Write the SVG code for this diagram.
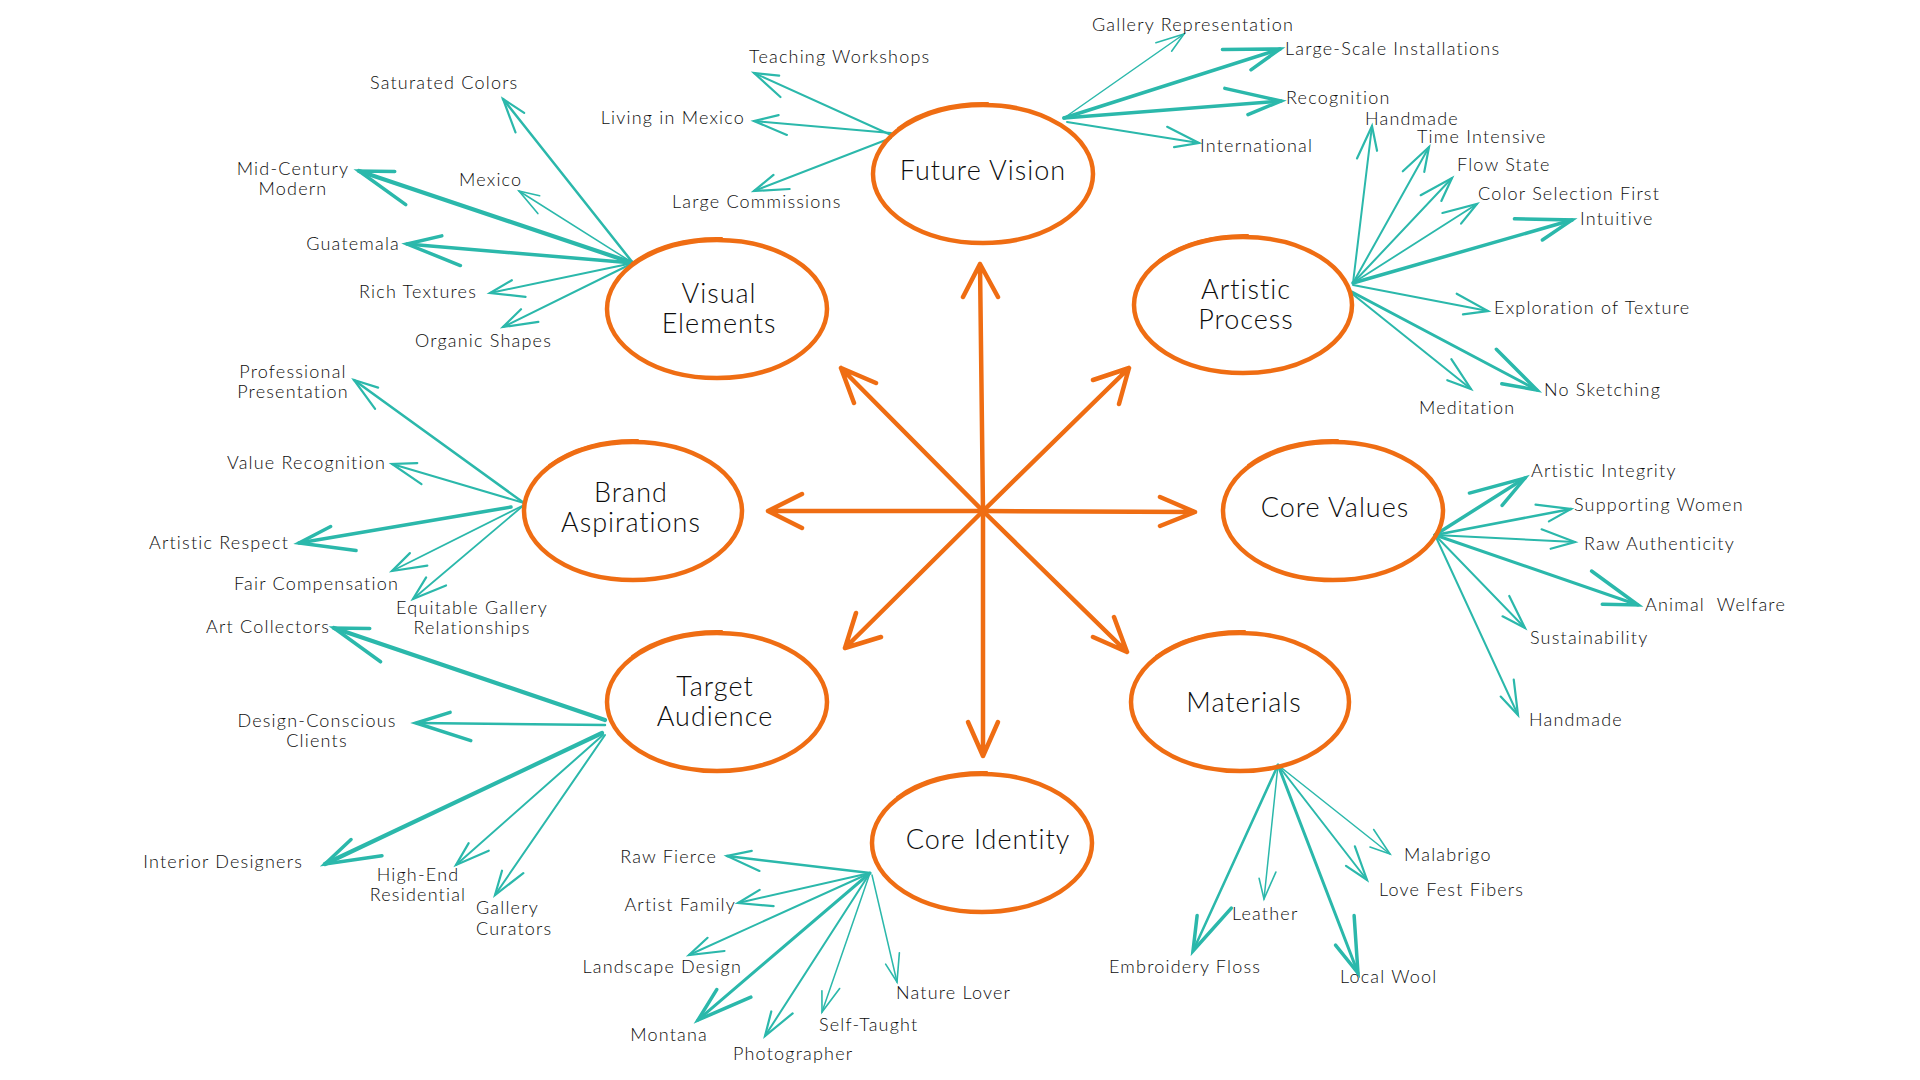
<svg xmlns="http://www.w3.org/2000/svg" width="1920" height="1080" viewBox="0 0 1920 1080">
<style>
.hub{stroke:#EF6D13;stroke-width:4.5;fill:none;stroke-linecap:round;stroke-linejoin:round}
.ring{stroke:#EF6D13;stroke-width:4.5;fill:none}
.ring2{stroke:#EF6D13;stroke-width:2;fill:none;stroke-linecap:round}
.t{font-family:Lato,"Liberation Sans",sans-serif;fill:#0d0d0d}
.nl{font-size:27px;text-anchor:middle;font-weight:300;letter-spacing:1px}
.ll{font-size:18px;font-weight:300;letter-spacing:1.2px}
.e{text-anchor:end}
.m{text-anchor:middle}
.c{stroke:#2BB8AB;fill:none;stroke-linecap:round}
.w15{stroke-width:1.5}
.w18{stroke-width:1.8}
.w2{stroke-width:2}
.w25{stroke-width:2.5}
.w3{stroke-width:3}
.w35{stroke-width:3.5}
.w4{stroke-width:4.2}
</style>
<defs>
<marker id="as" markerUnits="userSpaceOnUse" orient="auto" refX="0" refY="0" markerWidth="10" markerHeight="10" overflow="visible">
<path d="M-28,-9 L0,0 L-20,7" fill="none" stroke="#2BB8AB" stroke-width="1.6" stroke-linecap="round"/>
</marker>
<marker id="am" markerUnits="userSpaceOnUse" orient="auto" refX="0" refY="0" markerWidth="10" markerHeight="10" overflow="visible">
<path d="M-34,-11 L0,0 L-24,8" fill="none" stroke="#2BB8AB" stroke-width="2.2" stroke-linecap="round"/>
</marker>
<marker id="al" markerUnits="userSpaceOnUse" orient="auto" refX="0" refY="0" markerWidth="10" markerHeight="10" overflow="visible">
<path d="M-55,-17 L0,0 L-34,11" fill="none" stroke="#2BB8AB" stroke-width="3.5" stroke-linecap="round"/>
</marker>
</defs>
<rect width="1920" height="1080" fill="#ffffff"/>

<g id="connectors">
<g id="hub-arrows">
<path class="hub" d="M983,511 L980,264 M963,297 L980,264 L998,297"/>
<path class="hub" d="M983,511 L841,368 M876,383 L841,368 L854,403"/>
<path class="hub" d="M983,511 L1129,368 M1093,380 L1129,368 L1119,404"/>
<path class="hub" d="M983,511 L768,511 M802,494 L768,511 L802,528"/>
<path class="hub" d="M983,511 L1195,512 M1160,497 L1195,512 L1160,526"/>
<path class="hub" d="M983,511 L845,648 M856,613 L845,648 L881,637"/>
<path class="hub" d="M983,511 L1127,652 M1114,617 L1127,652 L1093,637"/>
<path class="hub" d="M983,511 L983,756 M968,722 L983,756 L998,722"/>
</g>
<g id="leaf-arrows">
<line x1="891" y1="135" x2="754" y2="73" class="c w2" marker-end="url(#am)"/>
<line x1="891" y1="133" x2="754" y2="121" class="c w2" marker-end="url(#am)"/>
<line x1="891" y1="138" x2="754" y2="191" class="c w2" marker-end="url(#am)"/>
<line x1="1064" y1="118" x2="1184" y2="34" class="c w15" marker-end="url(#as)"/>
<line x1="1064" y1="118" x2="1280" y2="49" class="c w35" marker-end="url(#al)"/>
<line x1="1064" y1="118" x2="1281" y2="101" class="c w35" marker-end="url(#al)"/>
<line x1="1067" y1="122" x2="1199" y2="143" class="c w2" marker-end="url(#am)"/>

<line x1="633" y1="263" x2="503" y2="99" class="c w25" marker-end="url(#am)"/>
<line x1="633" y1="263" x2="359" y2="171" class="c w4" marker-end="url(#al)"/>
<line x1="633" y1="263" x2="519" y2="191" class="c w15" marker-end="url(#as)"/>
<line x1="633" y1="263" x2="407" y2="244" class="c w35" marker-end="url(#al)"/>
<line x1="633" y1="263" x2="490" y2="293" class="c w2" marker-end="url(#am)"/>
<line x1="633" y1="263" x2="503" y2="327" class="c w2" marker-end="url(#am)"/>

<line x1="1353" y1="283" x2="1372" y2="126" class="c w2" marker-end="url(#am)"/>
<line x1="1353" y1="283" x2="1429" y2="147" class="c w2" marker-end="url(#am)"/>
<line x1="1353" y1="283" x2="1452" y2="178" class="c w2" marker-end="url(#am)"/>
<line x1="1353" y1="283" x2="1477" y2="204" class="c w18" marker-end="url(#am)"/>
<line x1="1353" y1="283" x2="1572" y2="220" class="c w35" marker-end="url(#al)"/>
<line x1="1353" y1="285" x2="1488" y2="311" class="c w2" marker-end="url(#am)"/>
<line x1="1352" y1="292" x2="1537" y2="390" class="c w3" marker-end="url(#al)"/>
<line x1="1350" y1="292" x2="1471" y2="389" class="c w2" marker-end="url(#am)"/>

<line x1="524" y1="503" x2="354" y2="380" class="c w25" marker-end="url(#am)"/>
<line x1="524" y1="503" x2="392" y2="464" class="c w2" marker-end="url(#am)"/>
<line x1="511" y1="507" x2="299" y2="543" class="c w35" marker-end="url(#al)"/>
<line x1="524" y1="505" x2="392" y2="571" class="c w18" marker-end="url(#am)"/>
<line x1="524" y1="505" x2="413" y2="599" class="c w18" marker-end="url(#am)"/>

<line x1="605" y1="720" x2="334" y2="628" class="c w4" marker-end="url(#al)"/>
<line x1="605" y1="725" x2="416" y2="723" class="c w25" marker-end="url(#al)"/>
<line x1="602" y1="733" x2="325" y2="864" class="c w4" marker-end="url(#al)"/>
<line x1="603" y1="735" x2="456" y2="865" class="c w2" marker-end="url(#am)"/>
<line x1="605" y1="735" x2="495" y2="895" class="c w2" marker-end="url(#am)"/>

<line x1="870" y1="873" x2="727" y2="856" class="c w25" marker-end="url(#am)"/>
<line x1="870" y1="873" x2="738" y2="903" class="c w2" marker-end="url(#am)"/>
<line x1="870" y1="873" x2="689" y2="955" class="c w2" marker-end="url(#am)"/>
<line x1="870" y1="873" x2="698" y2="1020" class="c w3" marker-end="url(#al)"/>
<line x1="870" y1="873" x2="765" y2="1036" class="c w2" marker-end="url(#am)"/>
<line x1="870" y1="873" x2="822" y2="1012" class="c w15" marker-end="url(#as)"/>
<line x1="872" y1="875" x2="897" y2="982" class="c w15" marker-end="url(#as)"/>

<line x1="1435" y1="535" x2="1525" y2="478" class="c w35" marker-end="url(#al)"/>
<line x1="1435" y1="535" x2="1571" y2="509" class="c w25" marker-end="url(#am)"/>
<line x1="1435" y1="535" x2="1575" y2="542" class="c w2" marker-end="url(#am)"/>
<line x1="1435" y1="535" x2="1638" y2="605" class="c w3" marker-end="url(#al)"/>
<line x1="1435" y1="535" x2="1525" y2="628" class="c w2" marker-end="url(#am)"/>
<line x1="1435" y1="535" x2="1518" y2="715" class="c w2" marker-end="url(#am)"/>

<line x1="1278" y1="765" x2="1390" y2="854" class="c w15" marker-end="url(#as)"/>
<line x1="1278" y1="765" x2="1367" y2="880" class="c w2" marker-end="url(#am)"/>
<line x1="1278" y1="765" x2="1264" y2="899" class="c w15" marker-end="url(#as)"/>
<line x1="1278" y1="765" x2="1193" y2="951" class="c w25" marker-end="url(#al)"/>
<line x1="1278" y1="765" x2="1358" y2="973" class="c w3" marker-end="url(#al)"/>
</g>
</g>

<g id="node-future-vision">
<ellipse class="ring" cx="983" cy="174" rx="110" ry="69"/>
<path class="ring2" d="M898,128 A110 69 0 0 1 988,103"/>
<text class="t nl" x="983" y="180">Future Vision</text>
</g>
<g id="node-visual-elements">
<ellipse class="ring" cx="717" cy="309" rx="110" ry="69"/>
<path class="ring2" d="M632,263 A110 69 0 0 1 722,238"/>
<text class="t nl" x="719" y="303">Visual</text>
<text class="t nl" x="719" y="333">Elements</text>
</g>
<g id="node-artistic-process">
<ellipse class="ring" cx="1243" cy="305" rx="109" ry="68"/>
<path class="ring2" d="M1159,260 A109 68 0 0 1 1248,235"/>
<text class="t nl" x="1246" y="299">Artistic</text>
<text class="t nl" x="1246" y="329">Process</text>
</g>
<g id="node-brand-aspirations">
<ellipse class="ring" cx="633" cy="511" rx="109" ry="69"/>
<path class="ring2" d="M549,465 A109 69 0 0 1 638,440"/>
<text class="t nl" x="631" y="502">Brand</text>
<text class="t nl" x="631" y="532">Aspirations</text>
</g>
<g id="node-core-values">
<ellipse class="ring" cx="1333" cy="511" rx="110" ry="69"/>
<path class="ring2" d="M1248,465 A110 69 0 0 1 1338,440"/>
<text class="t nl" x="1335" y="517">Core Values</text>
</g>
<g id="node-target-audience">
<ellipse class="ring" cx="717" cy="702" rx="110" ry="69"/>
<path class="ring2" d="M632,656 A110 69 0 0 1 722,631"/>
<text class="t nl" x="715" y="696">Target</text>
<text class="t nl" x="715" y="726">Audience</text>
</g>
<g id="node-materials">
<ellipse class="ring" cx="1240" cy="702" rx="109" ry="69"/>
<path class="ring2" d="M1156,656 A109 69 0 0 1 1245,631"/>
<text class="t nl" x="1244" y="712">Materials</text>
</g>
<g id="node-core-identity">
<ellipse class="ring" cx="982" cy="843" rx="110" ry="69"/>
<path class="ring2" d="M897,797 A110 69 0 0 1 987,772"/>
<text class="t nl" x="988" y="849">Core Identity</text>
</g>

<g id="leaf-teaching-workshops"><text class="t ll" x="749" y="63">Teaching Workshops</text></g>
<g id="leaf-living-in-mexico"><text class="t ll e" x="745" y="124">Living in Mexico</text></g>
<g id="leaf-large-commissions"><text class="t ll" x="672" y="208">Large Commissions</text></g>
<g id="leaf-gallery-representation"><text class="t ll" x="1092" y="31">Gallery Representation</text></g>
<g id="leaf-large-scale-installations"><text class="t ll" x="1285" y="55">Large-Scale Installations</text></g>
<g id="leaf-recognition"><text class="t ll" x="1286" y="104">Recognition</text></g>
<g id="leaf-international"><text class="t ll" x="1200" y="152">International</text></g>

<g id="leaf-saturated-colors"><text class="t ll" x="370" y="89">Saturated Colors</text></g>
<g id="leaf-mid-century-modern"><text class="t ll m" x="293" y="175">Mid-Century</text><text class="t ll m" x="293" y="195">Modern</text></g>
<g id="leaf-mexico"><text class="t ll" x="459" y="186">Mexico</text></g>
<g id="leaf-guatemala"><text class="t ll e" x="400" y="250">Guatemala</text></g>
<g id="leaf-rich-textures"><text class="t ll" x="359" y="298">Rich Textures</text></g>
<g id="leaf-organic-shapes"><text class="t ll" x="415" y="347">Organic Shapes</text></g>

<g id="leaf-handmade-process"><text class="t ll" x="1365" y="125">Handmade</text></g>
<g id="leaf-time-intensive"><text class="t ll" x="1417" y="143">Time Intensive</text></g>
<g id="leaf-flow-state"><text class="t ll" x="1457" y="171">Flow State</text></g>
<g id="leaf-color-selection-first"><text class="t ll" x="1478" y="200">Color Selection First</text></g>
<g id="leaf-intuitive"><text class="t ll" x="1580" y="225">Intuitive</text></g>
<g id="leaf-exploration-of-texture"><text class="t ll" x="1494" y="314">Exploration of Texture</text></g>
<g id="leaf-no-sketching"><text class="t ll" x="1544" y="396">No Sketching</text></g>
<g id="leaf-meditation"><text class="t ll" x="1419" y="414">Meditation</text></g>

<g id="leaf-professional-presentation"><text class="t ll m" x="293" y="378">Professional</text><text class="t ll m" x="293" y="398">Presentation</text></g>
<g id="leaf-value-recognition"><text class="t ll e" x="386" y="469">Value Recognition</text></g>
<g id="leaf-artistic-respect"><text class="t ll e" x="289" y="549">Artistic Respect</text></g>
<g id="leaf-fair-compensation"><text class="t ll e" x="399" y="590">Fair Compensation</text></g>
<g id="leaf-equitable-gallery"><text class="t ll m" x="472" y="614">Equitable Gallery</text><text class="t ll m" x="472" y="634">Relationships</text></g>

<g id="leaf-art-collectors"><text class="t ll e" x="330" y="633">Art Collectors</text></g>
<g id="leaf-design-conscious-clients"><text class="t ll m" x="317" y="727">Design-Conscious</text><text class="t ll m" x="317" y="747">Clients</text></g>
<g id="leaf-interior-designers"><text class="t ll e" x="303" y="868">Interior Designers</text></g>
<g id="leaf-high-end-residential"><text class="t ll m" x="418" y="881">High-End</text><text class="t ll m" x="418" y="901">Residential</text></g>
<g id="leaf-gallery-curators"><text class="t ll" x="476" y="914">Gallery</text><text class="t ll" x="476" y="935">Curators</text></g>

<g id="leaf-raw-fierce"><text class="t ll e" x="717" y="863">Raw Fierce</text></g>
<g id="leaf-artist-family"><text class="t ll e" x="736" y="911">Artist Family</text></g>
<g id="leaf-landscape-design"><text class="t ll e" x="742" y="973">Landscape Design</text></g>
<g id="leaf-montana"><text class="t ll e" x="708" y="1041">Montana</text></g>
<g id="leaf-photographer"><text class="t ll" x="733" y="1060">Photographer</text></g>
<g id="leaf-self-taught"><text class="t ll" x="819" y="1031">Self-Taught</text></g>
<g id="leaf-nature-lover"><text class="t ll" x="896" y="999">Nature Lover</text></g>

<g id="leaf-artistic-integrity"><text class="t ll" x="1531" y="477">Artistic Integrity</text></g>
<g id="leaf-supporting-women"><text class="t ll" x="1574" y="511">Supporting Women</text></g>
<g id="leaf-raw-authenticity"><text class="t ll" x="1584" y="550">Raw Authenticity</text></g>
<g id="leaf-animal-welfare"><text class="t ll" x="1645" y="611" xml:space="preserve" style="white-space:pre">Animal  Welfare</text></g>
<g id="leaf-sustainability"><text class="t ll" x="1530" y="644">Sustainability</text></g>
<g id="leaf-handmade-values"><text class="t ll" x="1529" y="726">Handmade</text></g>

<g id="leaf-malabrigo"><text class="t ll" x="1404" y="861">Malabrigo</text></g>
<g id="leaf-love-fest-fibers"><text class="t ll" x="1379" y="896">Love Fest Fibers</text></g>
<g id="leaf-leather"><text class="t ll" x="1232" y="920">Leather</text></g>
<g id="leaf-embroidery-floss"><text class="t ll" x="1109" y="973">Embroidery Floss</text></g>
<g id="leaf-local-wool"><text class="t ll" x="1340" y="983">Local Wool</text></g>
</svg>
